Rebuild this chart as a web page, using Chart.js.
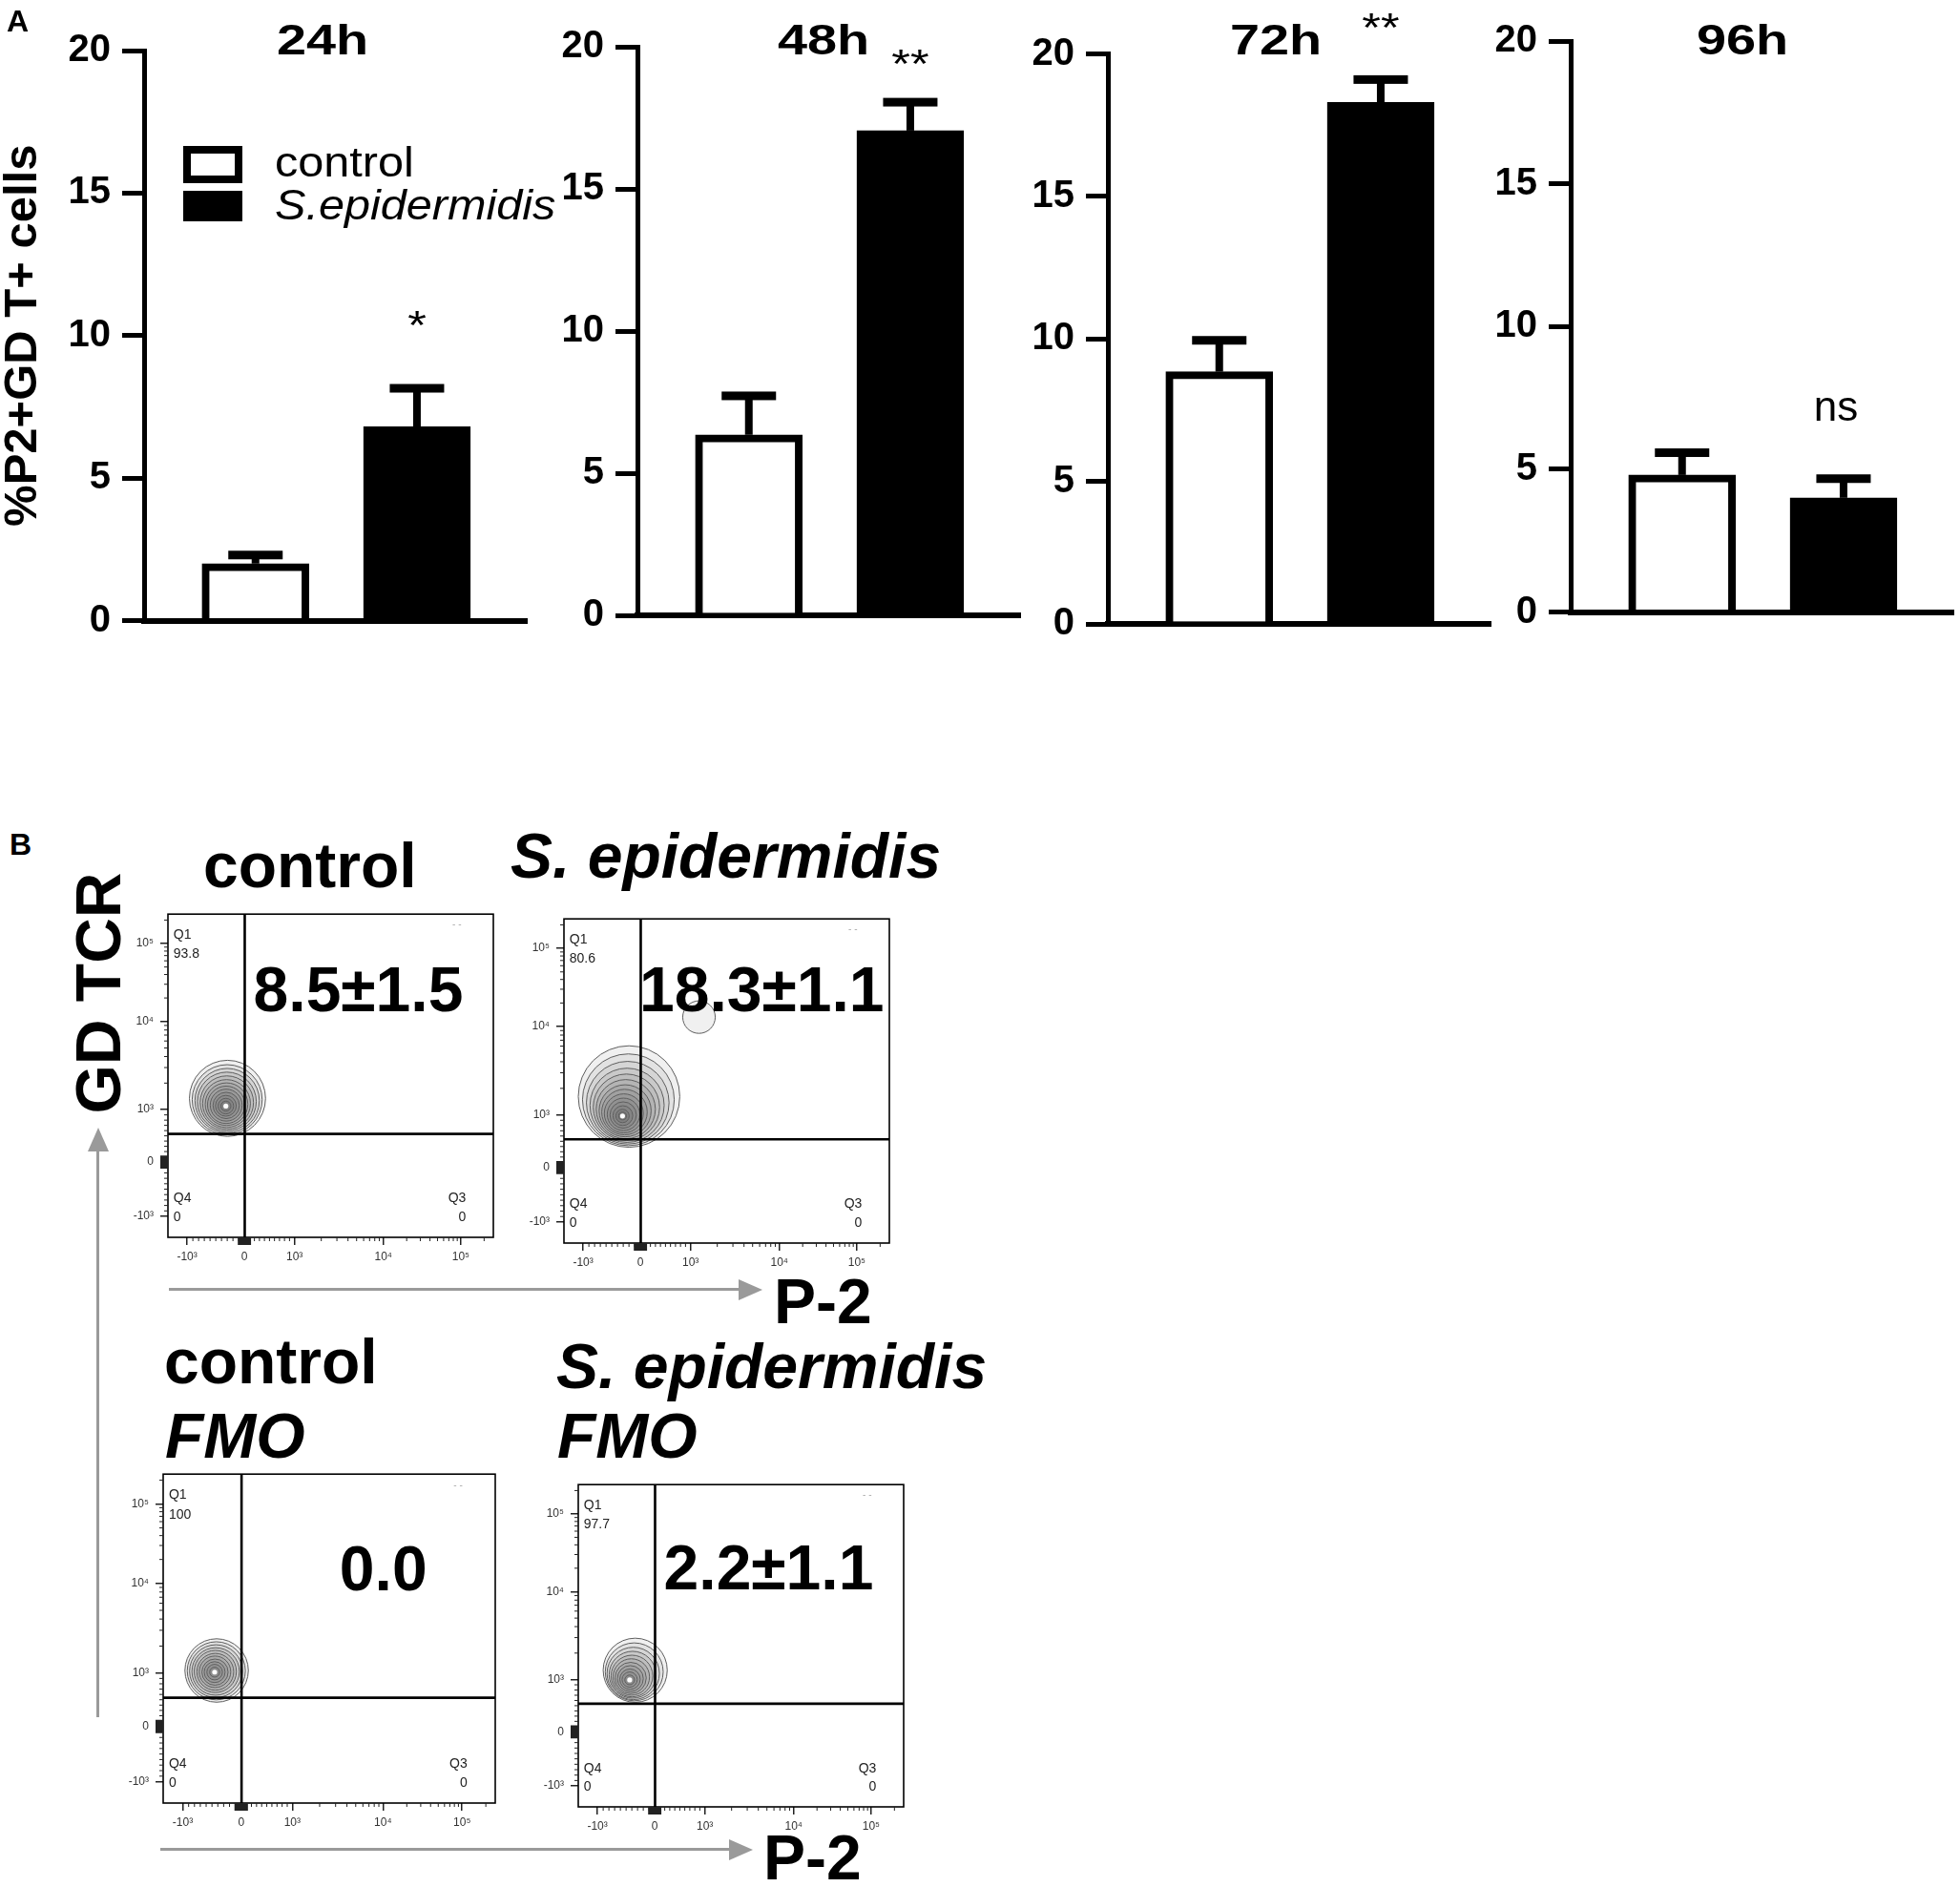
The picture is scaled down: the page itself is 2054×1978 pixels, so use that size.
<!DOCTYPE html>
<html>
<head>
<meta charset="utf-8">
<title>P2+ GD T cells</title>
<script src="https://cdn.jsdelivr.net/npm/chart.js@4.4.1/dist/chart.umd.min.js"></script>
<style>
html, body { margin: 0; padding: 0; background: #fff; }
#page { position: relative; width: 2054px; height: 1978px; overflow: hidden; background: #fff;
        font-family: 'Liberation Sans', Arial, Helvetica, sans-serif; }
#page canvas { position: absolute; }
.t { position: absolute; white-space: nowrap; line-height: 1; color: #000; }
.arrow { position: absolute; }
</style>
</head>
<body>
<div id="page"></div>
<script>
// ---- panel A data ----
const timepoints = ['24h', '48h', '72h', '96h'];
const groups = ['control', 'S.epidermidis'];
const controlMean = [2.0, 6.35, 8.85, 4.8];
const controlSem = [0.3, 1.37, 1.1, 0.78];
const epiMean = [6.8, 17.05, 18.3, 4.0];
const epiSem = [1.35, 1.0, 0.8, 0.67];
const significance = ['*', '**', '**', 'ns'];
const yTicks = [0, 5, 10, 15, 20];

// ---- panel B data ----
const flowTitles = [['control'], ['S. epidermidis'], ['control', 'FMO'], ['S. epidermidis', 'FMO']];
const flowStats = ['8.5±1.5', '18.3±1.1', '0.0', '2.2±1.1'];
const q1Values = ['93.8', '80.6', '100', '97.7'];
const q3Values = ['0', '0', '0', '0'];
const q4Values = ['0', '0', '0', '0'];
const flowTickLabels = ['-10³', '0', '10³', '10⁴', '10⁵'];
// contour rings [x, y, radius] in plot display units (0-100)
const contourControl = [
  [18.3, 43.0, 11.7], [18.2, 42.6, 10.75], [18.2, 42.3, 9.9], [18.1, 42.0, 9.05], [18.1, 41.7, 8.2],
  [18.0, 41.4, 7.35], [18.0, 41.2, 6.55], [17.9, 41.0, 5.75], [17.9, 40.9, 4.9], [17.9, 40.8, 4.05],
  [17.8, 40.7, 3.2], [17.8, 40.6, 2.4], [17.8, 40.6, 1.55]
];
const contourEpi = [
  [20.0, 45.2, 15.6], [19.8, 44.2, 14.1], [19.6, 43.3, 12.7], [19.4, 42.5, 11.4], [19.2, 41.9, 10.2],
  [19.0, 41.3, 9.1], [18.8, 40.8, 8.0], [18.6, 40.4, 7.0], [18.4, 40.0, 6.0], [18.3, 39.7, 5.0],
  [18.2, 39.5, 4.05], [18.1, 39.3, 3.05], [18.0, 39.2, 2.05], [18.0, 39.2, 1.2],
  [41.5, 69.7, 5.0]
];
const contourFmoControl = [
  [16.1, 40.3, 9.55], [16.0, 40.2, 8.75], [15.9, 40.1, 7.95], [15.8, 40.0, 7.15], [15.7, 40.0, 6.35],
  [15.7, 39.9, 5.55], [15.6, 39.9, 4.75], [15.6, 39.8, 3.95], [15.5, 39.8, 3.15], [15.5, 39.8, 2.35],
  [15.5, 39.8, 1.5]
];
const contourFmoEpi = [
  [17.5, 42.4, 9.85], [17.2, 41.9, 8.9], [16.9, 41.4, 8.05], [16.7, 41.0, 7.2], [16.5, 40.6, 6.4],
  [16.3, 40.3, 5.6], [16.1, 40.0, 4.8], [16.0, 39.8, 4.0], [15.9, 39.6, 3.15], [15.8, 39.5, 2.35],
  [15.8, 39.4, 1.5]
];
const flowPeaks = [[17.8, 40.6], [18.0, 39.2], [15.5, 39.8], [15.8, 39.4]];

// ---- layout ----
const barPanels = [
  { axisX: 151, y20: 53, y0: 650.5, lift: 76, titleX: 337.5, width: 650 },
  { axisX: 668, y20: 49, y0: 645, lift: 50, titleX: 862.5, width: 566 },
  { axisX: 1161, y20: 56.5, y0: 654, lift: 64, titleX: 1336.5, width: 566 },
  { axisX: 1646, y20: 43, y0: 641.5, lift: 72, titleX: 1826, width: 566 }
];
const flowBoxes = [
  { left: 176, top: 956, w: 341, h: 341, stat: [58.5, 69.9], title: [213, 930] },
  { left: 591, top: 961, w: 341, h: 342, stat: [60.8, 71.5], title: [535, 920] },
  { left: 171, top: 1543, w: 348, h: 347, stat: [66.3, 64.8], title: [172, 1450] },
  { left: 606, top: 1554, w: 341, h: 340, stat: [58.5, 67.4], title: [583, 1455] }
];
const flowXTickPos = [5.9, 23.5, 38.9, 66.2, 90];
const flowYTickPos = [6.5, 23.3, 39.5, 66.8, 90.9];
const gateX = 23.6, gateY = 32;
const FONT = '"Liberation Sans", Arial, sans-serif';

Chart.defaults.font.family = FONT;
Chart.defaults.color = '#000';

const page = document.getElementById('page');

function makeCanvas(left, top, w, h) {
  const c = document.createElement('canvas');
  c.width = w; c.height = h;
  c.style.left = left + 'px'; c.style.top = top + 'px';
  c.style.width = w + 'px'; c.style.height = h + 'px';
  page.appendChild(c);
  return c;
}

function addText(txt, x, base, size, o = {}) {
  const d = document.createElement('div');
  d.className = 't';
  d.textContent = txt;
  d.style.fontSize = size + 'px';
  d.style.fontWeight = o.bold ? 'bold' : 'normal';
  d.style.fontStyle = o.italic ? 'italic' : 'normal';
  d.style.left = x + 'px';
  d.style.top = (base - 0.8465 * size) + 'px';
  const sx = o.sx || 1;
  if (o.center) {
    d.style.transform = 'translateX(-50%) scaleX(' + sx + ')';
  } else {
    d.style.transformOrigin = '0 0';
    d.style.transform = 'scaleX(' + sx + ')';
  }
  page.appendChild(d);
}

function addRotated(txt, cx, cy, size) {
  const d = document.createElement('div');
  d.className = 't';
  d.textContent = txt;
  d.style.fontSize = size + 'px';
  d.style.fontWeight = 'bold';
  d.style.left = cx + 'px';
  d.style.top = cy + 'px';
  d.style.transform = 'translate(-50%, -50%) rotate(-90deg)';
  page.appendChild(d);
}

function addRect(l, t, w, h, css) {
  const d = document.createElement('div');
  d.className = 'arrow';
  d.style.left = l + 'px'; d.style.top = t + 'px';
  d.style.width = w + 'px'; d.style.height = h + 'px';
  Object.assign(d.style, css || { background: '#9a9a9a' });
  page.appendChild(d);
}

// ---- plugins for panel A ----
const errorBars = {
  id: 'errorBars',
  afterDatasetsDraw(chart) {
    const ctx = chart.ctx, y = chart.scales.y;
    ctx.save();
    ctx.fillStyle = '#000';
    chart.data.datasets.forEach((ds, di) => {
      chart.getDatasetMeta(di).data.forEach((bar, j) => {
        const top = y.getPixelForValue(ds.data[j].y + ds.sem[j]);
        ctx.fillRect(bar.x - 4, top, 8, bar.y - top);
        ctx.fillRect(bar.x - 28.5, top - 4.5, 57, 9);
      });
    });
    ctx.restore();
  }
};

const sigMarks = {
  id: 'sigMarks',
  afterDatasetsDraw(chart, args, o) {
    const ds = chart.data.datasets[1];
    const bar = chart.getDatasetMeta(1).data[0];
    const y = chart.scales.y.getPixelForValue(ds.data[0].y + ds.sem[0]) - o.lift;
    const ctx = chart.ctx;
    ctx.save();
    ctx.fillStyle = '#000';
    ctx.textAlign = 'center';
    ctx.textBaseline = 'alphabetic';
    if (o.text === 'ns') {
      ctx.font = '44px ' + FONT;
      ctx.fillText(o.text, bar.x - 8, y + 0.26 * 44);
    } else {
      ctx.font = '42px ' + FONT;
      ctx.translate(bar.x, y + 0.57 * 42);
      ctx.scale(1.2, 1);
      ctx.fillText(o.text, 0, 0);
    }
    ctx.restore();
  }
};

const barLegend = {
  id: 'barLegend',
  afterDraw(chart, args, o) {
    if (!o.show) return;
    const ctx = chart.ctx, a = chart.chartArea;
    const rows = [{ top: 100, h: 39, base: 132 }, { top: 147, h: 32, base: 177 }];
    chart.data.datasets.forEach((ds, k) => {
      const r = rows[k], x = a.left + 41, y = a.top + r.top;
      ctx.fillStyle = ds.borderColor;
      ctx.fillRect(x, y, 62, r.h);
      ctx.fillStyle = ds.backgroundColor;
      ctx.fillRect(x + 8, y + 8, 46, r.h - 16);
      ctx.save();
      ctx.fillStyle = '#000';
      ctx.textBaseline = 'alphabetic';
      ctx.font = (k === 1 ? 'italic ' : '') + '45px ' + FONT;
      ctx.translate(a.left + 137, a.top + r.base);
      ctx.scale(1.08, 1);
      ctx.fillText(ds.label, 0, 0);
      ctx.restore();
    });
  }
};

barPanels.forEach((p, i) => {
  const W = p.width, H = 700;
  const cv = makeCanvas(p.axisX - 151, 0, W, H);
  new Chart(cv, {
    type: 'bar',
    data: {
      datasets: [
        { label: groups[0], data: [{ x: 1, y: controlMean[i] }], sem: [controlSem[i]],
          backgroundColor: '#fff', borderColor: '#000', borderWidth: 8 },
        { label: groups[1], data: [{ x: 2, y: epiMean[i] }], sem: [epiSem[i]],
          backgroundColor: '#000', borderColor: '#000', borderWidth: 8 }
      ]
    },
    options: {
      responsive: false,
      animation: false,
      events: [],
      layout: { padding: { left: 0, top: p.y20, right: W - 151 - 401, bottom: H - p.y0 } },
      datasets: { bar: { grouped: false, barThickness: 112, borderSkipped: 'start' } },
      scales: {
        x: {
          type: 'linear', min: 0.31, max: 2.68, offset: false,
          ticks: { display: false },
          grid: { display: false },
          border: { display: true, width: 6, color: '#000' },
          afterFit: s => { s.height = 0; }
        },
        y: {
          min: 0, max: 20,
          afterBuildTicks: s => { s.ticks = yTicks.map(v => ({ value: v })); },
          ticks: { font: { size: 40, weight: 'bold' }, color: '#000', padding: 12 },
          grid: { display: true, drawOnChartArea: false, drawTicks: true, tickLength: 23,
                  tickWidth: 5, lineWidth: 5, color: '#000' },
          border: { display: true, width: 5, color: '#000' },
          title: { display: i === 0, text: '%P2+GD T+ cells', color: '#000',
                   font: { size: 49, weight: 'bold', lineHeight: 1 }, padding: { top: 0, bottom: 0 } },
          afterFit: s => { s.width = 151; }
        }
      },
      plugins: {
        legend: { display: false },
        tooltip: { enabled: false },
        sigMarks: { text: significance[i], lift: p.lift },
        barLegend: { show: i === 0 }
      }
    },
    plugins: [errorBars, sigMarks, barLegend]
  });
  addText(timepoints[i], p.titleX, 57, 45, { bold: true, center: true, sx: 1.24 });
});

// ---- panel B: flow plots ----
function minorTicks(pos) {
  const out = [];
  for (let k = 1; k < 10; k++) {
    out.push(pos[0] + (pos[1] - pos[0]) * k / 10);
    out.push(pos[1] + (pos[2] - pos[1]) * k / 10);
  }
  for (let d = 2; d <= 3; d++) {
    for (let k = 2; k < 10; k++) out.push(pos[d] + (pos[d + 1] - pos[d]) * Math.log10(k));
  }
  out.push(pos[4] + (pos[4] - pos[3]) * Math.log10(2));
  return out;
}

const flowDecor = {
  id: 'flowDecor',
  afterDatasetsDraw(chart, args, o) {
    const { ctx, chartArea: a } = chart;
    const x = chart.scales.x, y = chart.scales.y;
    const px = u => x.getPixelForValue(u), py = u => y.getPixelForValue(u);
    ctx.save();
    ctx.strokeStyle = '#000';
    ctx.lineWidth = 2.6;
    ctx.beginPath();
    ctx.moveTo(px(gateX), a.top); ctx.lineTo(px(gateX), a.bottom);
    ctx.moveTo(a.left, py(gateY)); ctx.lineTo(a.right, py(gateY));
    ctx.stroke();
    ctx.lineWidth = 1.6;
    ctx.strokeRect(a.left, a.top, a.width, a.height);

    ctx.fillStyle = '#222';
    ctx.textBaseline = 'alphabetic';
    ctx.font = '14px ' + FONT;
    ctx.textAlign = 'left';
    ctx.fillText('Q1', px(1.7), py(92.4));
    ctx.fillText(o.q1, px(1.7), py(86.5));
    ctx.fillText('Q4', px(1.7), py(10.8));
    ctx.fillText(o.q4, px(1.7), py(4.9));
    ctx.textAlign = 'right';
    ctx.fillText('Q3', px(91.6), py(10.8));
    ctx.fillText(o.q3, px(91.6), py(4.9));
    ctx.fillStyle = '#aaa';
    ctx.font = '10px ' + FONT;
    ctx.textAlign = 'center';
    ctx.fillText('- -', px(88.8), py(95.8));

    ctx.fillStyle = '#000';
    ctx.font = 'bold 66px ' + FONT;
    ctx.fillText(o.stat, px(o.statAt[0]), py(o.statAt[1]));
    ctx.restore();
  },
  afterDraw(chart) {
    const { ctx, chartArea: a } = chart;
    const x = chart.scales.x, y = chart.scales.y;
    ctx.save();
    ctx.strokeStyle = '#222';
    ctx.lineWidth = 1;
    ctx.beginPath();
    minorTicks(flowXTickPos).forEach(u => {
      const p = x.getPixelForValue(u);
      ctx.moveTo(p, a.bottom); ctx.lineTo(p, a.bottom + 4);
    });
    minorTicks(flowYTickPos).forEach(u => {
      const p = y.getPixelForValue(u);
      ctx.moveTo(a.left - 4, p); ctx.lineTo(a.left, p);
    });
    ctx.stroke();
    ctx.lineWidth = 1.6;
    ctx.beginPath();
    for (let j = -6; j <= 6; j++) {
      const px0 = x.getPixelForValue(flowXTickPos[1] + j * 0.3);
      ctx.moveTo(px0, a.bottom); ctx.lineTo(px0, a.bottom + 8);
      const py0 = y.getPixelForValue(flowYTickPos[1] + j * 0.3);
      ctx.moveTo(a.left - 8, py0); ctx.lineTo(a.left, py0);
    }
    ctx.stroke();
    ctx.restore();
  }
};

const contours = [contourControl, contourEpi, contourFmoControl, contourFmoEpi];

flowBoxes.forEach((b, i) => {
  const W = 52 + b.w + 12, H = 12 + b.h + 42;
  const cv = makeCanvas(b.left - 52, b.top - 12, W, H);
  const unitPx = b.w / 100;
  new Chart(cv, {
    type: 'bubble',
    data: {
      datasets: [
        { data: [{ x: flowPeaks[i][0], y: flowPeaks[i][1], r: 2.6 }],
          backgroundColor: '#ffffff', borderColor: '#ffffff', borderWidth: 0 },
        { data: contours[i].map(c => ({ x: c[0], y: c[1], r: c[2] * unitPx })),
          backgroundColor: 'rgba(60,60,60,0.075)', borderColor: '#5e5e5e', borderWidth: 1 }
      ]
    },
    options: {
      responsive: false,
      animation: false,
      events: [],
      layout: { autoPadding: false, padding: { left: 0, top: 12, right: 12, bottom: 0 } },
      scales: {
        x: {
          type: 'linear', min: 0, max: 100, position: 'bottom',
          afterBuildTicks: s => { s.ticks = flowXTickPos.map(v => ({ value: v })); },
          ticks: { callback: (v, k) => flowTickLabels[k], autoSkip: false, maxRotation: 0,
                   font: { size: 12 }, color: '#333', padding: 5 },
          grid: { display: true, drawOnChartArea: false, drawTicks: true, tickLength: 8,
                  lineWidth: 1.5, color: '#222' },
          border: { display: false },
          afterFit: s => { s.height = 42; }
        },
        y: {
          type: 'linear', min: 0, max: 100, position: 'left',
          afterBuildTicks: s => { s.ticks = flowYTickPos.map(v => ({ value: v })); },
          ticks: { callback: (v, k) => flowTickLabels[k], autoSkip: false,
                   font: { size: 12 }, color: '#333', padding: 7 },
          grid: { display: true, drawOnChartArea: false, drawTicks: true, tickLength: 8,
                  lineWidth: 1.5, color: '#222' },
          border: { display: false },
          afterFit: s => { s.width = 52; }
        }
      },
      plugins: {
        legend: { display: false },
        tooltip: { enabled: false },
        flowDecor: { q1: q1Values[i], q3: q3Values[i], q4: q4Values[i], stat: flowStats[i], statAt: b.stat }
      }
    },
    plugins: [flowDecor]
  });
  const lines = flowTitles[i];
  addText(lines[0], b.title[0], b.title[1], 66, { bold: true, italic: lines[0].indexOf('S.') === 0 });
  if (lines[1]) addText(lines[1], b.title[0] + 1, 1528, 66, { bold: true, italic: true });
});

// ---- annotations ----
addText('A', 7, 33, 32, { bold: true });
addText('B', 10, 896, 32, { bold: true });
addRotated('GD TCR', 102.5, 1041, 66);
addText('P-2', 811, 1387, 66, { bold: true });
addText('P-2', 800, 1970, 66, { bold: true });

// gray axis arrows
addRect(101, 1205, 3, 595);
addRect(91.5, 1182, 0, 0, { borderLeft: '11px solid transparent', borderRight: '11px solid transparent',
                            borderBottom: '25px solid #9a9a9a' });
addRect(177, 1350, 598, 3);
addRect(774, 1340.5, 0, 0, { borderTop: '11px solid transparent', borderBottom: '11px solid transparent',
                             borderLeft: '25px solid #9a9a9a' });
addRect(168, 1937, 597, 3);
addRect(764, 1927.5, 0, 0, { borderTop: '11px solid transparent', borderBottom: '11px solid transparent',
                             borderLeft: '25px solid #9a9a9a' });
</script>
</body>
</html>
